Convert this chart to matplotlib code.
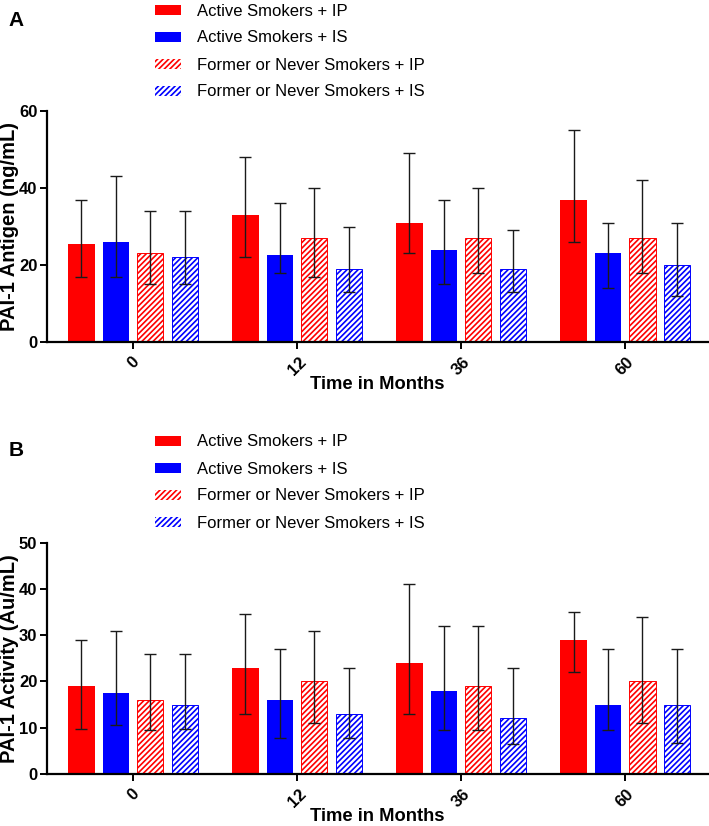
import matplotlib
matplotlib.use("Agg")
import matplotlib.pyplot as plt
from matplotlib.patches import Patch
import numpy as np

plt.rcParams['font.family'] = ['Liberation Sans', 'DejaVu Sans']
plt.rcParams['hatch.linewidth'] = 1.2

# ---------------- data ----------------
time_labels = ["0", "12", "36", "60"]
series_names = ["Active Smokers + IP", "Active Smokers + IS",
                "Former or Never Smokers + IP", "Former or Never Smokers + IS"]

# Panel A: PAI-1 Antigen (ng/mL)
antigen_active_ip = [25.5, 33.0, 31.0, 37.0]
antigen_active_ip_lo = [17.0, 22.0, 23.0, 26.0]
antigen_active_ip_hi = [37.0, 48.0, 49.0, 55.0]

antigen_active_is = [26.0, 22.5, 24.0, 23.0]
antigen_active_is_lo = [17.0, 18.0, 15.0, 14.0]
antigen_active_is_hi = [43.0, 36.0, 37.0, 31.0]

antigen_former_ip = [23.0, 27.0, 27.0, 27.0]
antigen_former_ip_lo = [15.0, 17.0, 18.0, 18.0]
antigen_former_ip_hi = [34.0, 40.0, 40.0, 42.0]

antigen_former_is = [22.0, 19.0, 19.0, 20.0]
antigen_former_is_lo = [15.0, 13.0, 13.0, 12.0]
antigen_former_is_hi = [34.0, 30.0, 29.0, 31.0]

# Panel B: PAI-1 Activity (Au/mL)
activity_active_ip = [19.0, 23.0, 24.0, 29.0]
activity_active_ip_lo = [9.8, 13.0, 13.0, 22.0]
activity_active_ip_hi = [29.0, 34.5, 41.0, 35.0]

activity_active_is = [17.5, 16.0, 18.0, 15.0]
activity_active_is_lo = [10.5, 7.8, 9.5, 9.5]
activity_active_is_hi = [31.0, 27.0, 32.0, 27.0]

activity_former_ip = [16.0, 20.0, 19.0, 20.0]
activity_former_ip_lo = [9.5, 11.0, 9.5, 11.0]
activity_former_ip_hi = [26.0, 31.0, 32.0, 34.0]

activity_former_is = [15.0, 13.0, 12.0, 15.0]
activity_former_is_lo = [9.7, 7.8, 6.5, 6.7]
activity_former_is_hi = [26.0, 23.0, 23.0, 27.0]

# ---------------- style ----------------
RED = "#FF0000"
BLUE = "#0000FF"
colors = [RED, BLUE, RED, BLUE]
hatched = [False, False, True, True]
HATCH = "//////"

fig = plt.figure(figsize=(7.09, 8.26), dpi=100)

W, H = 709.0, 826.0
def ax_rect(left, right, top, bottom):
    return [left / W, 1 - bottom / H, (right - left) / W, (bottom - top) / H]

bar_w = 0.16
step = 0.21
offsets = [-1.5 * step, -0.5 * step, 0.5 * step, 1.5 * step]


def draw_panel(ax, means, los, his, ymax, yticks, ylabel):
    x = np.arange(len(time_labels))
    for i in range(4):
        m = np.array(means[i]); lo = np.array(los[i]); hi = np.array(his[i])
        xpos = x + offsets[i]
        if hatched[i]:
            ax.bar(xpos, m, width=bar_w, facecolor="white", edgecolor=colors[i],
                   hatch=HATCH, linewidth=0.7, zorder=2)
        else:
            ax.bar(xpos, m, width=bar_w, color=colors[i], linewidth=0, zorder=2)
        ax.errorbar(xpos, m, yerr=[m - lo, hi - m], fmt="none", ecolor="#1a1a1a",
                    elinewidth=1.0, capsize=4.3, capthick=1.0, zorder=3)
    ax.set_xlim(-0.525, 3.505)
    ax.set_ylim(0, ymax)
    ax.set_yticks(yticks)
    ax.set_yticklabels([str(t) for t in yticks], fontsize=12, fontweight="bold")
    ax.set_xticks(x)
    ax.set_xticklabels(time_labels, rotation=45, fontsize=12, fontweight="bold",
                       ha="center", va="top")
    ax.set_xlabel("Time in Months", fontsize=13.2, fontweight="bold")
    ax.xaxis.set_label_coords(0.5, -0.148)
    ax.set_ylabel(ylabel, fontsize=14.5, fontweight="bold")
    ax.yaxis.set_label_coords(-0.042, 0.5)
    for s in ["top", "right"]:
        ax.spines[s].set_visible(False)
    for s in ["left", "bottom"]:
        ax.spines[s].set_linewidth(1.6)
    ax.tick_params(axis="both", width=1.4, length=5, pad=2)
    ax.tick_params(axis="x", pad=4)


def draw_legend(y_top):
    handles = []
    for i in range(4):
        if hatched[i]:
            handles.append(Patch(facecolor="white", edgecolor=colors[i], hatch=HATCH,
                                 linewidth=0))
        else:
            handles.append(Patch(facecolor=colors[i], edgecolor=colors[i], linewidth=0))
    fig.legend(handles, series_names, loc="upper left",
               bbox_to_anchor=(155 / W, 1 - y_top / H), frameon=False,
               fontsize=12, handlelength=1.55, handleheight=0.55,
               handletextpad=0.95, labelspacing=0.72, borderaxespad=0, borderpad=0)


axA = fig.add_axes(ax_rect(47, 708, 111, 342))
draw_panel(axA,
           [antigen_active_ip, antigen_active_is, antigen_former_ip, antigen_former_is],
           [antigen_active_ip_lo, antigen_active_is_lo, antigen_former_ip_lo, antigen_former_is_lo],
           [antigen_active_ip_hi, antigen_active_is_hi, antigen_former_ip_hi, antigen_former_is_hi],
           60, [0, 20, 40, 60], "PAI-1 Antigen (ng/mL)")

axB = fig.add_axes(ax_rect(47, 708, 542.7, 774))
draw_panel(axB,
           [activity_active_ip, activity_active_is, activity_former_ip, activity_former_is],
           [activity_active_ip_lo, activity_active_is_lo, activity_former_ip_lo, activity_former_is_lo],
           [activity_active_ip_hi, activity_active_is_hi, activity_former_ip_hi, activity_former_is_hi],
           50, [0, 10, 20, 30, 40, 50], "PAI-1 Activity (Au/mL)")

draw_legend(3.5)
draw_legend(434.5)

fig.text(16 / W, 1 - 20 / H, "A", fontsize=15, fontweight="bold", ha="center", va="center")
fig.text(16 / W, 1 - 450 / H, "B", fontsize=15, fontweight="bold", ha="center", va="center")

fig.savefig("out.png", dpi=100)
